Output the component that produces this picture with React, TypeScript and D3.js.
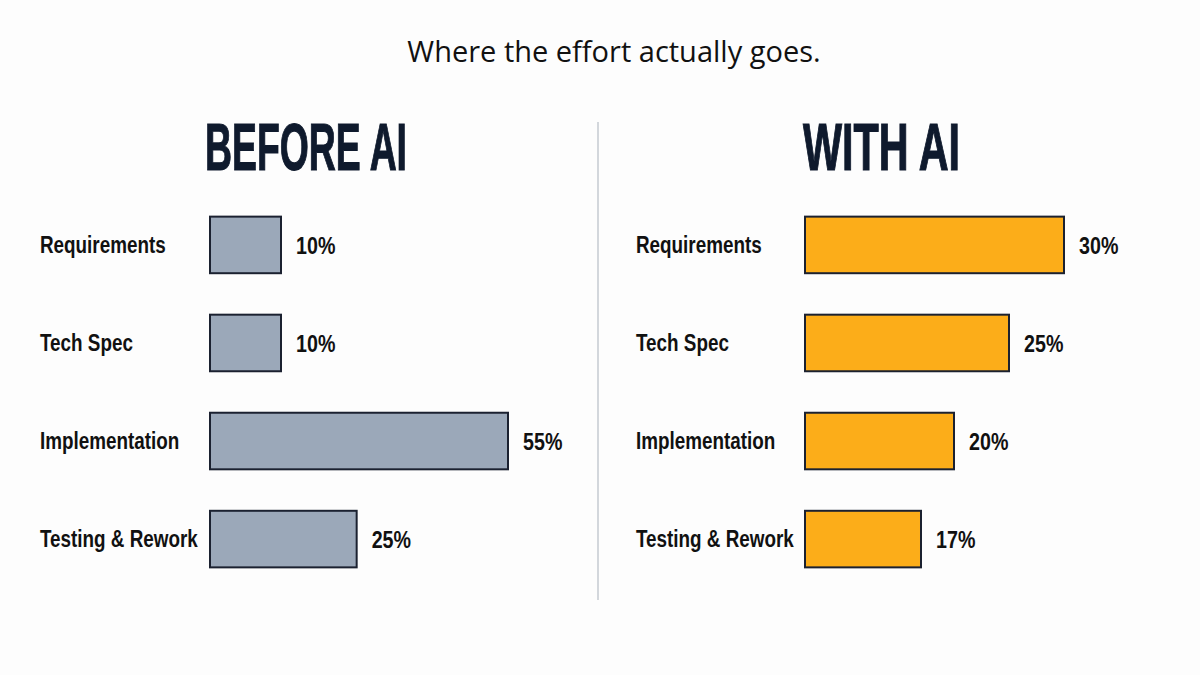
import React, { useEffect, useRef } from "react";
import * as d3 from "d3";

// categories shared by both panels
const stages = ["Requirements", "Tech Spec", "Implementation", "Testing & Rework"];
// effort share (%) per stage
const beforeAI = [10, 10, 55, 25];
const withAI = [30, 25, 20, 17];
const panelTitles = ["BEFORE AI", "WITH AI"];
const chartTitle = "Where the effort actually goes.";

const App = () => {
  const chartRef = useRef<HTMLDivElement | null>(null);

  useEffect(() => {
    const width = 1200;
    const height = 675;
    const labelFont = "'Liberation Sans', Arial, sans-serif";
    const narrow = 0.82; // squeeze Arial-like glyphs into a condensed look
    const ink = "#0f1a2d";

    document.body.style.margin = "0";
    d3.select(chartRef.current).selectAll("*").remove();

    const svg = d3
      .select(chartRef.current)
      .append("svg")
      .attr("width", width)
      .attr("height", height)
      .style("display", "block");

    svg.append("rect").attr("width", width).attr("height", height).attr("fill", "#fdfdfd");

    // Title
    svg
      .append("text")
      .attr("x", 614)
      .attr("y", 62)
      .attr("text-anchor", "middle")
      .attr("font-family", "'Open Sans', sans-serif")
      .attr("font-size", 29)
      .attr("fill", "#111")
      .text(chartTitle);

    // Divider
    svg
      .append("line")
      .attr("x1", 598)
      .attr("x2", 598)
      .attr("y1", 122)
      .attr("y2", 600)
      .attr("stroke", "#d3d7dc")
      .attr("stroke-width", 2);

    // rows
    const y = d3.scaleBand().domain(stages).range([198, 586]).paddingInner(0.423).paddingOuter(0.19);

    const panels = [
      {
        title: panelTitles[0],
        values: beforeAI,
        titleX: 205,
        titleW: 202,
        labelX: 40,
        barX: 210,
        fill: "#9ba8b9",
        // bar length per value
        w: d3.scaleLinear().domain([10, 55]).range([71, 298]),
      },
      {
        title: panelTitles[1],
        values: withAI,
        titleX: 803,
        titleW: 157,
        labelX: 636,
        barX: 805,
        fill: "#fcad19",
        w: d3.scaleLinear().domain([17, 30]).range([116, 259]),
      },
    ];

    panels.forEach((p) => {
      const g = svg.append("g");

      g.append("text")
        .attr("x", p.titleX)
        .attr("y", 170)
        .attr("font-family", labelFont)
        .attr("font-weight", 700)
        .attr("font-size", 67)
        .attr("fill", ink)
        .attr("stroke", ink)
        .attr("stroke-width", 1.2)
        .attr("textLength", p.titleW)
        .attr("lengthAdjust", "spacingAndGlyphs")
        .text(p.title);

      const rows = g
        .selectAll("g.row")
        .data(stages.map((s, i) => ({ stage: s, value: p.values[i] })))
        .join("g")
        .attr("class", "row");

      rows
        .append("rect")
        .attr("x", p.barX)
        .attr("y", (d) => y(d.stage)!)
        .attr("width", (d) => p.w(d.value))
        .attr("height", y.bandwidth())
        .attr("fill", p.fill)
        .attr("stroke", "#1b2130")
        .attr("stroke-width", 2);

      rows
        .append("text")
        .attr(
          "transform",
          (d) => `translate(${p.labelX},${y(d.stage)! + y.bandwidth() / 2 + 8}) scale(${narrow},1)`
        )
        .attr("font-family", labelFont)
        .attr("font-weight", 700)
        .attr("font-size", 23)
        .attr("fill", "#111")
        .text((d) => d.stage);

      rows
        .append("text")
        .attr(
          "transform",
          (d) =>
            `translate(${p.barX + p.w(d.value) + 15},${y(d.stage)! + y.bandwidth() / 2 + 9}) scale(${narrow},1)`
        )
        .attr("font-family", labelFont)
        .attr("font-weight", 700)
        .attr("font-size", 24)
        .attr("fill", "#111")
        .text((d) => `${d.value}%`);
    });
  }, []);

  return <div ref={chartRef}></div>;
};

export default App;
